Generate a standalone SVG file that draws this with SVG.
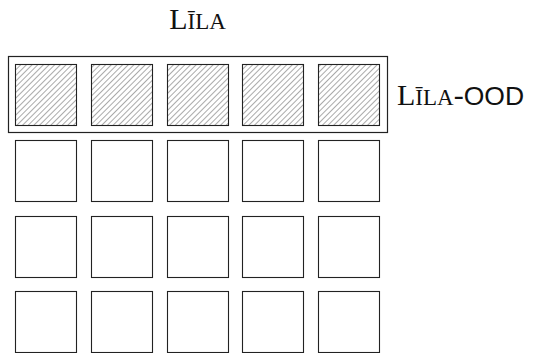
<svg xmlns="http://www.w3.org/2000/svg" width="535" height="353" viewBox="0 0 535 353">
<style>
.cell{fill:none;stroke:#222;stroke-width:1.1}
.hcell{fill:url(#hatch);stroke:#222;stroke-width:1.1}
.frame{fill:none;stroke:#222;stroke-width:1.2}
.lbl{font-family:"Liberation Serif","DejaVu Serif",serif;font-size:30px;fill:#111}
.sm{font-size:23px}
.sans{font-family:"Liberation Sans","DejaVu Sans",sans-serif;font-size:26.5px}
</style>
<defs>
<pattern id="hatch" patternUnits="userSpaceOnUse" width="4" height="4" patternTransform="rotate(45)">
<rect width="4" height="4" fill="#fff"/>
<line x1="0" y1="0" x2="0" y2="4" stroke="#555" stroke-width="1"/>
</pattern>
</defs>
<g id="title"><text class="lbl" x="197.5" y="29" text-anchor="middle">L<tspan class="sm">ĪLA</tspan></text></g>
<g id="ood-label"><text class="lbl" x="397" y="105">L<tspan class="sm">ĪLA</tspan>-<tspan class="sans">OOD</tspan></text></g>
<g id="ood-frame"><rect class="frame" x="8.5" y="56.5" width="379" height="76"/></g>
<g id="row1">
<rect class="hcell" x="15.5" y="64.5" width="61" height="61"/>
<rect class="hcell" x="91.5" y="64.5" width="61" height="61"/>
<rect class="hcell" x="167.5" y="64.5" width="61" height="61"/>
<rect class="hcell" x="242.5" y="64.5" width="61" height="61"/>
<rect class="hcell" x="318.5" y="64.5" width="61" height="61"/>
</g>
<g id="row2">
<rect class="cell" x="15.5" y="140.5" width="61" height="61"/>
<rect class="cell" x="91.5" y="140.5" width="61" height="61"/>
<rect class="cell" x="167.5" y="140.5" width="61" height="61"/>
<rect class="cell" x="242.5" y="140.5" width="61" height="61"/>
<rect class="cell" x="318.5" y="140.5" width="61" height="61"/>
</g>
<g id="row3">
<rect class="cell" x="15.5" y="216.5" width="61" height="61"/>
<rect class="cell" x="91.5" y="216.5" width="61" height="61"/>
<rect class="cell" x="167.5" y="216.5" width="61" height="61"/>
<rect class="cell" x="242.5" y="216.5" width="61" height="61"/>
<rect class="cell" x="318.5" y="216.5" width="61" height="61"/>
</g>
<g id="row4">
<rect class="cell" x="15.5" y="291.5" width="61" height="61"/>
<rect class="cell" x="91.5" y="291.5" width="61" height="61"/>
<rect class="cell" x="167.5" y="291.5" width="61" height="61"/>
<rect class="cell" x="242.5" y="291.5" width="61" height="61"/>
<rect class="cell" x="318.5" y="291.5" width="61" height="61"/>
</g>
</svg>
